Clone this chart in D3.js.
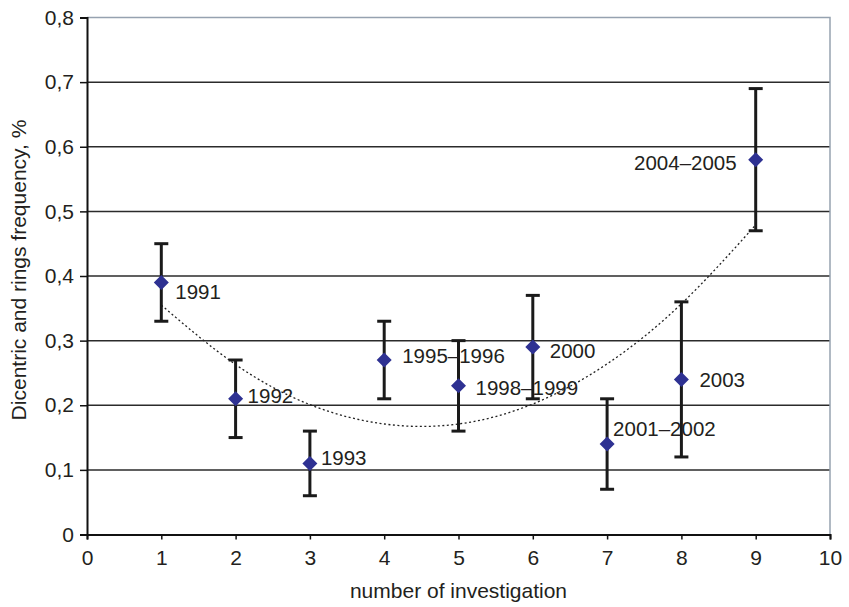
<html>
  <head>
    <meta charset="utf-8">
    <title>Dicentric and rings frequency</title>
    <style>
      body { margin: 0; background: #fff; }
      text { font-family: "Liberation Sans", Arial, Helvetica, sans-serif; fill: #231f20; }
    </style>
  </head>
  <body>
  <script src="https://d3js.org/d3.v7.min.js"></script>
  <script>
    // data
    var investigation = [1, 2, 3, 4, 5, 6, 7, 8, 9];
    var frequency = [0.39, 0.21, 0.11, 0.27, 0.23, 0.29, 0.14, 0.24, 0.58];
    var errLow = [0.33, 0.15, 0.06, 0.21, 0.16, 0.21, 0.07, 0.12, 0.47];
    var errHigh = [0.45, 0.27, 0.16, 0.33, 0.30, 0.37, 0.21, 0.36, 0.69];
    var periods = ['1991', '1992', '1993', '1995\u20131996', '1998\u20131999', '2000',
                   '2001\u20132002', '2003', '2004\u20132005'];
    // polynomial trend line, read at each investigation
    var trend = [0.355, 0.263, 0.201, 0.171, 0.171, 0.202, 0.264, 0.357, 0.479];
    var xTicks = [0, 1, 2, 3, 4, 5, 6, 7, 8, 9, 10];
    var yTicks = [0, 0.1, 0.2, 0.3, 0.4, 0.5, 0.6, 0.7, 0.8];

    // label offsets from each marker (layout only)
    var labelDx = [14, 12, 11, 18, 17, 17, 6, 18, -19];
    var labelDy = [9, -3, -6, -4, 2, 4, -15, 0, 3];

    var w = 849;
    var h = 607;
    var m = {left: 87, right: 19, top: 17.5, bottom: 72.5};

    var svg = d3.select('body')
                .append('svg')
                .attr('width', w)
                .attr('height', h);

    var x = d3.scaleLinear().domain([0, 10]).range([m.left, w - m.right]);
    var y = d3.scaleLinear().domain([0, 0.8]).range([h - m.bottom, m.top]);

    // grid lines
    svg.selectAll('.grid')
       .data(yTicks.slice(1, -1))
       .enter()
       .append('line')
       .attr('x1', x(0))
       .attr('x2', x(10))
       .attr('y1', d => y(d))
       .attr('y2', d => y(d))
       .attr('stroke', '#2b2b2b')
       .attr('stroke-width', 1.5);

    // top and right frame
    svg.append('path')
       .attr('d', 'M' + x(0) + ',' + y(0.8) + 'H' + x(10) + 'V' + y(0))
       .attr('fill', 'none')
       .attr('stroke', '#96a2b0')
       .attr('stroke-width', 1.5);

    var fmt = d => String(d).replace('.', ',');

    var yAxis = svg.append('g')
       .attr('transform', 'translate(' + x(0) + ',0)')
       .call(d3.axisLeft(y).tickValues(yTicks).tickFormat(fmt).tickSize(7).tickPadding(6));

    var xAxis = svg.append('g')
       .attr('transform', 'translate(0,' + y(0) + ')')
       .call(d3.axisBottom(x).tickValues(xTicks).tickFormat(d => d).tickSize(5).tickPadding(11));

    [yAxis, xAxis].forEach(function(a) {
      a.select('.domain').attr('stroke', '#111').attr('stroke-width', 2);
      a.selectAll('.tick line').attr('stroke', '#111').attr('stroke-width', 1.5);
      a.selectAll('text').attr('font-size', 21).attr('fill', '#231f20')
        .attr('font-family', '"Liberation Sans", Arial, sans-serif');
    });

    // trend line
    var pts = investigation.map((d, i) => [d, trend[i]]);
    svg.append('path')
       .datum(pts)
       .attr('d', d3.line().x(d => x(d[0])).y(d => y(d[1])).curve(d3.curveNatural))
       .attr('fill', 'none')
       .attr('stroke', '#222')
       .attr('stroke-width', 1.3)
       .attr('stroke-dasharray', '2,2.5');

    // error bars
    var bars = svg.selectAll('.err')
       .data(investigation)
       .enter()
       .append('g');

    bars.append('line')
       .attr('x1', d => x(d))
       .attr('x2', d => x(d))
       .attr('y1', (d, i) => y(errLow[i]))
       .attr('y2', (d, i) => y(errHigh[i]))
       .attr('stroke', '#1a1a1a')
       .attr('stroke-width', 3);

    [errLow, errHigh].forEach(function(arr) {
      bars.append('line')
         .attr('x1', d => x(d) - 7)
         .attr('x2', d => x(d) + 7)
         .attr('y1', (d, i) => y(arr[i]))
         .attr('y2', (d, i) => y(arr[i]))
         .attr('stroke', '#1a1a1a')
         .attr('stroke-width', 3);
    });

    // markers
    svg.selectAll('.pt')
       .data(investigation)
       .enter()
       .append('path')
       .attr('transform', (d, i) => 'translate(' + x(d) + ',' + y(frequency[i]) + ')')
       .attr('d', 'M0,-7.5L7.5,0L0,7.5L-7.5,0Z')
       .attr('fill', '#2e3192');

    // period labels
    svg.selectAll('.lbl')
       .data(investigation)
       .enter()
       .append('text')
       .attr('x', (d, i) => x(d) + labelDx[i])
       .attr('y', (d, i) => y(frequency[i]) + labelDy[i])
       .attr('dy', '0.36em')
       .attr('text-anchor', (d, i) => labelDx[i] < 0 ? 'end' : 'start')
       .attr('font-size', 20.5)
       .text((d, i) => periods[i]);

    // axis titles
    svg.append('text')
       .attr('x', (x(0) + x(10)) / 2)
       .attr('y', 598)
       .attr('text-anchor', 'middle')
       .attr('font-size', 21)
       .text('number of investigation');

    svg.append('text')
       .attr('transform', 'translate(26,270) rotate(-90)')
       .attr('text-anchor', 'middle')
       .attr('font-size', 21)
       .text('Dicentric and rings frequency, %');
  </script>
  </body>
</html>
